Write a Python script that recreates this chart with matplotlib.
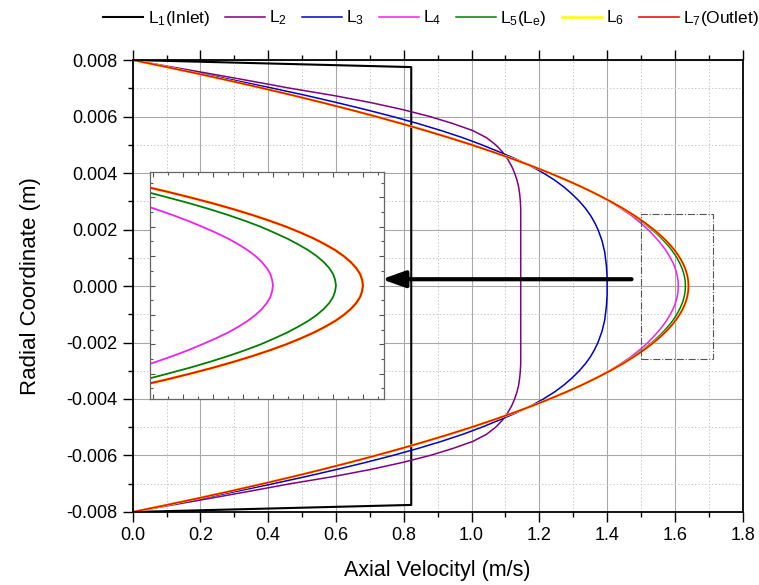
import numpy as np
import matplotlib
matplotlib.use('Agg')
import matplotlib.pyplot as plt
from matplotlib.patches import Rectangle
from matplotlib.ticker import MultipleLocator, FormatStrFormatter

# radial positions of the half profile (m), centreline to wall
# (finer spacing near the axis where the peaks sit)
r_half = [0.0, 0.0001, 0.0002, 0.0003, 0.0004, 0.0005, 0.0006, 0.0007,
          0.0008, 0.0009, 0.001, 0.0011, 0.0012, 0.0013, 0.0014, 0.0015,
          0.0016, 0.0017, 0.0018, 0.0019, 0.002,
          0.00225, 0.0025, 0.00275, 0.003, 0.00325, 0.0035, 0.00375,
          0.004, 0.00425, 0.0045, 0.00475, 0.005, 0.00525, 0.0055, 0.00575,
          0.006, 0.00625, 0.0065, 0.00675, 0.007, 0.00725, 0.0075, 0.00775, 0.008]

# axial velocity (m/s) at each radial position
u_L2 = [1.145, 1.145, 1.145, 1.145, 1.145, 1.145, 1.145, 1.145,
        1.145, 1.145, 1.145, 1.145, 1.145, 1.145, 1.145, 1.145,
        1.145, 1.145, 1.145, 1.145, 1.145,
        1.145, 1.145, 1.145, 1.144, 1.142, 1.139, 1.134,
        1.127, 1.118, 1.106, 1.091, 1.071, 1.044, 1.004, 0.945,
        0.877, 0.795, 0.700, 0.590, 0.465, 0.352, 0.236, 0.118, 0.000]
u_L3 = [1.400, 1.400, 1.400, 1.400, 1.3995, 1.399, 1.3985, 1.398,
        1.397, 1.396, 1.395, 1.394, 1.393, 1.391, 1.389, 1.387,
        1.385, 1.382, 1.379, 1.376, 1.373,
        1.363, 1.351, 1.336, 1.318, 1.297, 1.273, 1.245,
        1.212, 1.174, 1.130, 1.081, 1.030, 0.974, 0.911, 0.842,
        0.767, 0.686, 0.600, 0.510, 0.414, 0.314, 0.211, 0.106, 0.000]
u_L4 = [1.6100, 1.6097, 1.6091, 1.6079, 1.6063, 1.6042, 1.6016, 1.5985,
        1.5950, 1.5909, 1.5864, 1.5817, 1.5765, 1.5709, 1.5648, 1.5583,
        1.5515, 1.5441, 1.5365, 1.5287, 1.5205,
        1.497, 1.471, 1.440, 1.406, 1.368, 1.326, 1.281,
        1.232, 1.180, 1.124, 1.065, 1.003, 0.937, 0.868, 0.796,
        0.720, 0.641, 0.559, 0.474, 0.385, 0.294, 0.199, 0.101, 0.000]
u_L5 = [1.6310, 1.6307, 1.6300, 1.6287, 1.6269, 1.6246, 1.6218, 1.6184,
        1.6147, 1.6104, 1.6059, 1.6007, 1.5950, 1.5888, 1.5821, 1.5748,
        1.5673, 1.5592, 1.5507, 1.5416, 1.5320,
        1.5058, 1.4763, 1.4437, 1.4079, 1.3688, 1.3261, 1.2796,
        1.2300, 1.1771, 1.1211, 1.0618, 0.9994, 0.9337, 0.8648, 0.7928,
        0.7175, 0.6390, 0.5573, 0.4725, 0.3844, 0.2931, 0.1986, 0.1009, 0.000]
u_L6 = [1.6400, 1.6397, 1.6390, 1.6377, 1.6359, 1.6336, 1.6308, 1.6274,
        1.6236, 1.6192, 1.6144, 1.6090, 1.6031, 1.5967, 1.5898, 1.5823,
        1.5744, 1.5659, 1.5570, 1.5475, 1.5375,
        1.5103, 1.4798, 1.4462, 1.4094, 1.3693, 1.3261, 1.2796,
        1.2300, 1.1771, 1.1211, 1.0618, 0.9994, 0.9337, 0.8648, 0.7928,
        0.7175, 0.6390, 0.5573, 0.4725, 0.3844, 0.2931, 0.1986, 0.1009, 0.000]
u_L7 = [1.6400, 1.6397, 1.6390, 1.6377, 1.6359, 1.6336, 1.6308, 1.6274,
        1.6236, 1.6192, 1.6144, 1.6090, 1.6031, 1.5967, 1.5898, 1.5823,
        1.5744, 1.5659, 1.5570, 1.5475, 1.5375,
        1.5103, 1.4798, 1.4462, 1.4094, 1.3693, 1.3261, 1.2796,
        1.2300, 1.1771, 1.1211, 1.0618, 0.9994, 0.9337, 0.8648, 0.7928,
        0.7175, 0.6390, 0.5573, 0.4725, 0.3844, 0.2931, 0.1986, 0.1009, 0.000]

# inlet profile (uniform core)
inlet_r = [0.008, 0.00775, -0.00775, -0.008]
inlet_u = [0.0, 0.822, 0.822, 0.0]

labels = ['L$_1$(Inlet)', 'L$_2$', 'L$_3$', 'L$_4$', 'L$_5$(L$_e$)', 'L$_6$', 'L$_7$(Outlet)']
colors = ['#000000', '#800080', '#0000c8', '#ee22ee', '#008000', '#ffff00', '#f01010']
widths = [1.5, 1.1, 1.1, 1.1, 1.1, 1.8, 1.2]

plt.rcParams['font.family'] = ['Liberation Sans', 'DejaVu Sans']
plt.rcParams['mathtext.default'] = 'regular'
plt.rcParams['axes.unicode_minus'] = False


def mirror(u):
    # the profiles are symmetric about the axis
    r = np.array(r_half)
    u = np.array(u)
    return np.concatenate([u[::-1], u[1:]]), np.concatenate([r[::-1], -r[1:]])


profiles = [mirror(u) for u in [u_L2, u_L3, u_L4, u_L5, u_L6, u_L7]]

fig = plt.figure(figsize=(7.59, 5.85), dpi=100)
ax = fig.add_axes([0.1748, 0.1248, 0.8037, 0.7726])

handles = []
h, = ax.plot(inlet_u, inlet_r, color=colors[0], lw=widths[0], label=labels[0])
handles.append(h)
for i, (u, r) in enumerate(profiles):
    h, = ax.plot(u, r, color=colors[i + 1], lw=widths[i + 1], label=labels[i + 1])
    handles.append(h)

ax.set_xlim(0, 1.8)
ax.set_ylim(-0.008, 0.008)
ax.xaxis.set_major_locator(MultipleLocator(0.2))
ax.xaxis.set_minor_locator(MultipleLocator(0.1))
ax.yaxis.set_major_locator(MultipleLocator(0.002))
ax.yaxis.set_minor_locator(MultipleLocator(0.001))
ax.xaxis.set_major_formatter(FormatStrFormatter('%.1f'))
ax.yaxis.set_major_formatter(FormatStrFormatter('%.3f'))
ax.grid(which='major', color='#a8a8a8', lw=0.8, ls='-')
ax.grid(which='minor', color='#c8c8c8', lw=0.7, ls=(0, (1.5, 2.0)))
ax.set_axisbelow(True)
ax.tick_params(which='both', direction='out', top=True, right=False, width=1.0,
               labelsize=13, pad=4)
ax.tick_params(which='major', length=7)
ax.tick_params(which='minor', length=3.6)
for s in ax.spines.values():
    s.set_linewidth(1.3)
ax.set_xlabel('Axial Velocityl (m/s)', fontsize=15.5, labelpad=11)
ax.set_ylabel('Radial Coordinate (m)', fontsize=16, labelpad=18)

# zoom window around the centreline peaks
ax.add_patch(Rectangle((1.5, -0.0026), 0.212, 0.00515, fill=False,
                       ls='-.', lw=0.8, ec='#555555', zorder=3))

fig.legend(handles=handles, ncol=7, loc='center', bbox_to_anchor=(0.568, 0.969),
           frameon=False, fontsize=12.5, handlelength=2.3, handletextpad=0.25,
           columnspacing=0.85)

# inset with the developed profiles
axins = fig.add_axes([0.1976, 0.3179, 0.3083, 0.3880])
for i in range(2, 6):
    u, r = profiles[i]
    axins.plot(u, r, color=colors[i + 1], lw=widths[i + 1] + 0.2)
axins.set_xlim(1.569, 1.647)
axins.set_ylim(-0.00193, 0.00193)
axins.xaxis.set_major_locator(MultipleLocator(0.01))
axins.xaxis.set_minor_locator(MultipleLocator(0.005))
axins.yaxis.set_major_locator(MultipleLocator(0.0005))
axins.yaxis.set_minor_locator(MultipleLocator(0.00025))
axins.tick_params(which='both', direction='in', top=True, right=True,
                  labelbottom=False, labelleft=False, color='#555555', width=0.8)
axins.tick_params(which='major', length=3.5)
axins.tick_params(which='minor', length=2)
for s in axins.spines.values():
    s.set_linewidth(0.9)
    s.set_color('#666666')

axins.annotate('', xy=(0.735, 0.00024), xycoords=ax.transData,
               xytext=(1.472, 0.00024), textcoords=ax.transData,
               annotation_clip=False,
               arrowprops=dict(arrowstyle='-|>,head_length=0.7,head_width=0.25',
                               color='k', lw=3, mutation_scale=20,
                               shrinkA=0, shrinkB=0))

fig.savefig('out.png', dpi=100)
